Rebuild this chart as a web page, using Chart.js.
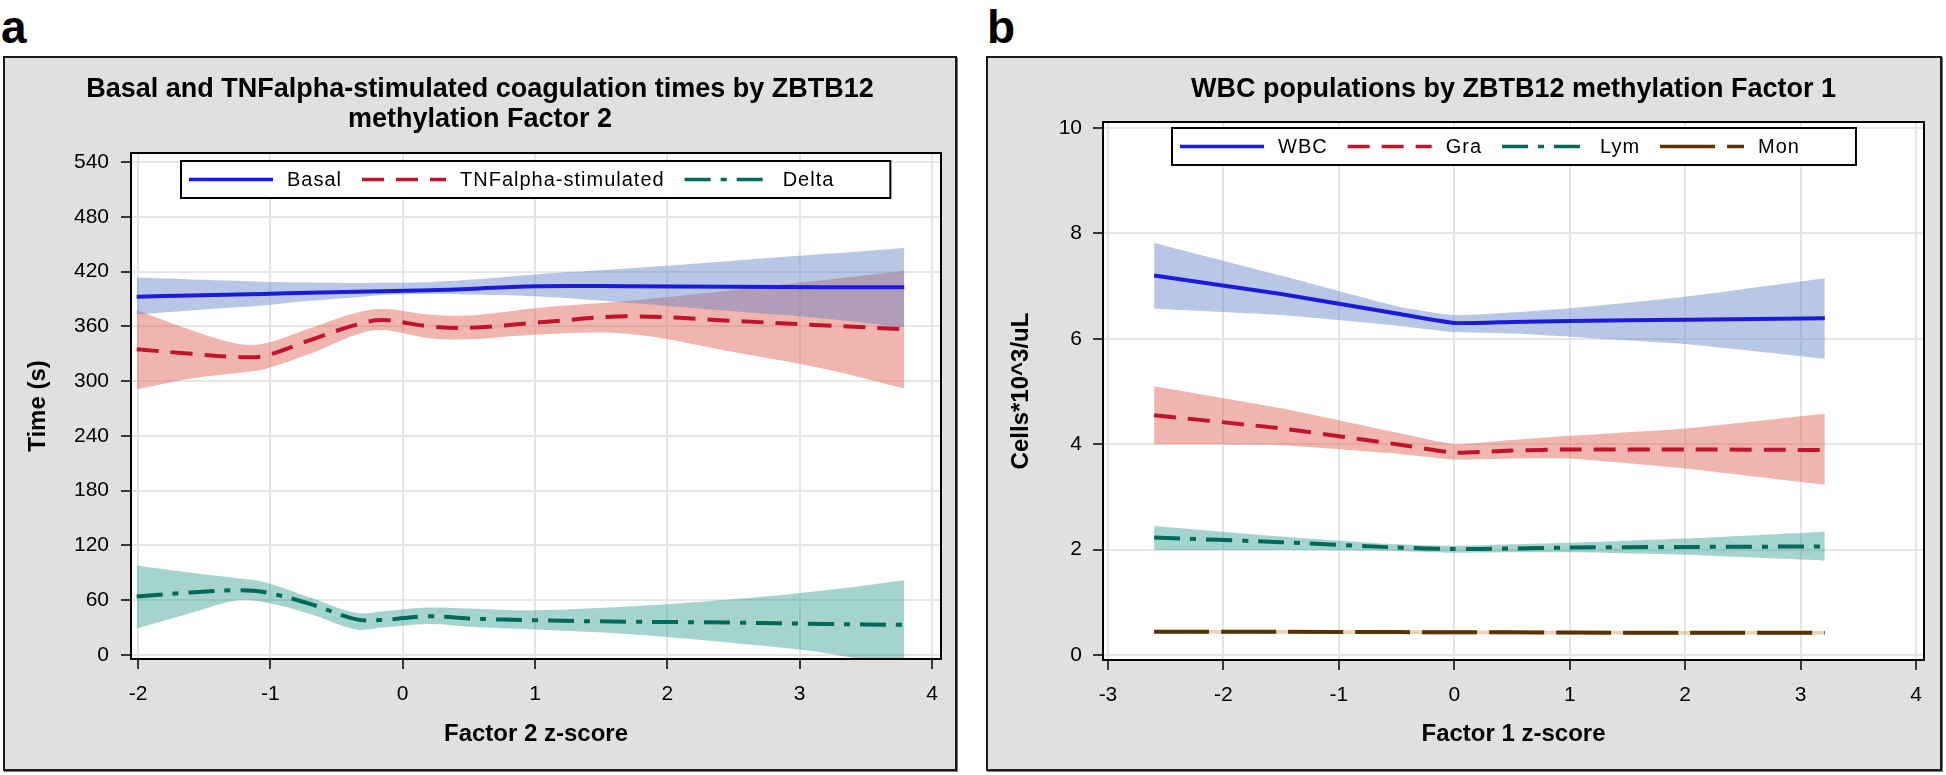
<!DOCTYPE html>
<html>
<head>
<meta charset="utf-8">
<script src="https://cdn.jsdelivr.net/npm/chart.js@4.4.1/dist/chart.umd.min.js"></script>
<style>
  body { margin: 0; width: 1946px; height: 775px; background: #fff; position: relative; overflow: hidden;
         font-family: "Liberation Sans", Arial, sans-serif; }
  .tag { position: absolute; top: 4px; font-size: 46px; font-weight: bold; line-height: 1; color: #000; }
  .panel { position: absolute; top: 56px; height: 715px; background: #e0e0e0; border: 2px solid #1a1a1a;
           box-sizing: border-box; box-shadow: 1px 1px 0 #777; }
  canvas { position: absolute; top: 56px; }
</style>
</head>
<body>
<div class="tag" style="left:1px">a</div>
<div class="tag" style="left:987px">b</div>
<div class="panel" style="left:3px; width:954px"></div>
<div class="panel" style="left:986px; width:956px"></div>
<canvas id="chartA" width="938" height="715" style="left:19px"></canvas>
<canvas id="chartB" width="956" height="715" style="left:986px"></canvas>
<script>
// ---- panel a: coagulation times by Factor 2 z-score ----
const zA       = [-2.01, -1.6, -1.25, -1.05, -0.7, -0.35, -0.15, 0.2, 0.5, 1.0, 1.7, 2.5, 3.2, 3.79];
const basal    = [392.5, 394, 395, 395.5, 397, 398, 398.5, 399.5, 401, 404, 404, 403.5, 403, 403];
const basalHi  = [413.5, 411.5, 410, 409, 408, 407.5, 407.8, 408.5, 411, 417, 423.5, 432, 439.5, 446];
const basalLo  = [373, 377.5, 381, 383, 388, 392, 394.5, 395.5, 395, 393, 386, 376.5, 368.5, 359];
const tnf      = [335, 330, 326.5, 327.5, 345, 362, 367, 360, 358.5, 364, 371, 366, 361, 357];
const tnfHi    = [378, 356, 341, 341, 358, 375, 379, 373, 372, 380, 388, 400, 411, 421];
const tnfLo    = [291, 303, 309, 313, 330, 351, 356, 347, 346, 351, 352, 332, 313, 292];
const delta    = [64, 68.5, 71, 69, 56, 39, 38.5, 42.5, 40, 38, 36.5, 35.5, 34, 33];
const deltaHi  = [98, 90, 84, 80, 63, 46, 48, 52, 51, 49, 53, 61, 71, 82];
const deltaLo  = [29, 46, 60, 58, 45, 28, 30, 34, 31, 28, 23, 13, 2, -15];
const yTicksA  = [0, 60, 120, 180, 240, 300, 360, 420, 480, 540];
const xTicksA  = [-2, -1, 0, 1, 2, 3, 4];

// ---- panel b: WBC populations by Factor 1 z-score ----
const zB    = [-2.6, -1.5, -0.5, 0, 0.5, 1, 2, 3.21];
const wbc   = [7.2, 6.85, 6.48, 6.3, 6.32, 6.34, 6.36, 6.39];
const wbcHi = [7.82, 7.2, 6.62, 6.45, 6.5, 6.58, 6.8, 7.15];
const wbcLo = [6.57, 6.45, 6.25, 6.13, 6.1, 6.04, 5.9, 5.62];
const gra   = [4.55, 4.3, 4.0, 3.84, 3.88, 3.9, 3.9, 3.89];
const graHi = [5.1, 4.68, 4.22, 4.0, 4.08, 4.16, 4.3, 4.58];
const graLo = [4.0, 3.98, 3.82, 3.71, 3.73, 3.73, 3.54, 3.23];
const lym   = [2.23, 2.14, 2.04, 2.01, 2.02, 2.04, 2.05, 2.06];
const lymHi = [2.45, 2.25, 2.1, 2.07, 2.1, 2.13, 2.21, 2.34];
const lymLo = [1.99, 1.99, 1.97, 1.94, 1.95, 1.95, 1.9, 1.79];
const mon   = [0.44, 0.44, 0.435, 0.43, 0.43, 0.425, 0.42, 0.42];
const monHi = [0.475, 0.475, 0.47, 0.465, 0.465, 0.46, 0.455, 0.455];
const monLo = [0.405, 0.405, 0.40, 0.395, 0.395, 0.39, 0.385, 0.385];
const yTicksB = [0, 2, 4, 6, 8, 10];
const xTicksB = [-3, -2, -1, 0, 1, 2, 3, 4];

const FONT = '"Liberation Sans", Arial, sans-serif';
Chart.defaults.font.family = FONT;
Chart.defaults.color = '#000';

const BLUE  = { color: '#1c1cd8', band: 'rgba(100,130,200,0.45)', dash: [] };
const RED   = { color: '#c0142c', band: 'rgba(220,90,75,0.45)', dash: [22, 12] };
const TEAL  = { color: '#00695a', band: 'rgba(40,150,135,0.42)', dash: [26, 10, 6, 10] };
const BROWN = { color: '#5a3200', band: 'rgba(200,150,80,0.4)', dash: [55, 12] };

const pts = (xs, ys) => xs.map((x, i) => ({ x: x, y: ys[i] }));

// lower bound, upper bound filled to it, then the fitted line on top
function series(label, xs, mid, lo, hi, st, tension) {
    return [
        { data: pts(xs, lo), borderWidth: 0, borderColor: 'rgba(0,0,0,0)', pointRadius: 0, fill: false, order: 2, tension: tension },
        { data: pts(xs, hi), borderWidth: 0, borderColor: 'rgba(0,0,0,0)', pointRadius: 0, fill: '-1',
          backgroundColor: st.band, order: 2, tension: tension },
        { label: label, data: pts(xs, mid), borderColor: st.color, borderWidth: 4, borderDash: st.dash,
          pointRadius: 0, fill: false, order: 1, tension: tension }
    ];
}

// white plot area, black frame and the boxed legend inside the frame
const framePlugin = {
    id: 'frame',
    beforeDraw(chart) {
        const a = chart.chartArea, ctx = chart.ctx;
        ctx.save();
        ctx.fillStyle = '#fff';
        ctx.fillRect(a.left, a.top, a.right - a.left, a.bottom - a.top);
        ctx.restore();
    },
    afterDatasetsDraw(chart, args, opts) {
        const a = chart.chartArea, ctx = chart.ctx;
        ctx.save();
        ctx.strokeStyle = '#000';
        ctx.lineWidth = 2;
        ctx.strokeRect(a.left, a.top, a.right - a.left, a.bottom - a.top);

        const items = chart.data.datasets.filter(d => d.label);
        ctx.font = '20px ' + FONT;
        ctx.letterSpacing = '1px';
        const sample = 84, gapT = 14, gapI = 20, padL = 8, padR = 56, h = 37;
        let w = padL + padR;
        items.forEach((d, i) => { w += sample + gapT + ctx.measureText(d.label).width + (i ? gapI : 0); });
        const x0 = Math.round((a.left + a.right) / 2 - w / 2), y0 = a.top + opts.top;
        ctx.fillStyle = '#fff';
        ctx.fillRect(x0, y0, w, h);
        ctx.strokeRect(x0, y0, w, h);
        const cy = y0 + h / 2;
        let x = x0 + padL;
        items.forEach(d => {
            ctx.beginPath();
            ctx.setLineDash(d.borderDash);
            ctx.strokeStyle = d.borderColor;
            ctx.lineWidth = 3.5;
            ctx.moveTo(x, cy);
            ctx.lineTo(x + sample, cy);
            ctx.stroke();
            ctx.setLineDash([]);
            x += sample + gapT;
            ctx.fillStyle = '#000';
            ctx.textAlign = 'left';
            ctx.textBaseline = 'middle';
            ctx.fillText(d.label, x, cy + 1);
            x += ctx.measureText(d.label).width + gapI;
        });
        ctx.restore();
    }
};

function axes(o) {
    const grid = { color: '#e6e6e6', lineWidth: 2, tickColor: '#000', tickLength: 10, tickWidth: 1.5 };
    return {
        x: {
            type: 'linear', min: o.xmin, max: o.xmax,
            grid: grid, border: { display: false },
            afterBuildTicks: s => { s.ticks = o.xticks.map(v => ({ value: v })); },
            afterFit: s => { s.height = o.xh; },
            ticks: { autoSkip: false, maxRotation: 0, padding: 13, font: { size: 21 }, callback: v => String(v) },
            title: { display: true, text: o.xtitle, font: { size: 24, weight: 'bold' }, padding: { top: 0, bottom: 22 } }
        },
        y: {
            type: 'linear', min: o.ymin, max: o.ymax,
            grid: grid, border: { display: false },
            afterBuildTicks: s => { s.ticks = o.yticks.map(v => ({ value: v })); },
            afterFit: s => { s.width = o.yw; },
            ticks: { padding: o.ypad, font: { size: 21 }, callback: v => String(v) },
            title: { display: true, text: o.ytitle, font: { size: 24, weight: 'bold' }, padding: { top: o.ytpad, bottom: 0 } }
        }
    };
}

new Chart(document.getElementById('chartA'), {
    type: 'line',
    data: {
        datasets: [].concat(
            series('Basal', zA, basal, basalLo, basalHi, BLUE, 0.35),
            series('TNFalpha-stimulated', zA, tnf, tnfLo, tnfHi, RED, 0.35),
            series('Delta', zA, delta, deltaLo, deltaHi, TEAL, 0.35)
        )
    },
    options: {
        responsive: false, animation: false,
        layout: { padding: { left: 0, right: 16, top: 0, bottom: 0 } },
        scales: axes({ xmin: -2.053, xmax: 4.068, ymin: -4.4, ymax: 550, xticks: xTicksA, yticks: yTicksA,
                       xh: 112, yw: 112, ypad: 12, ytpad: 5, xtitle: 'Factor 2 z-score', ytitle: 'Time (s)' }),
        plugins: {
            legend: { display: false }, tooltip: { enabled: false },
            title: { display: true, fullSize: true,
                     text: ['Basal and TNFalpha-stimulated coagulation times by ZBTB12', 'methylation Factor 2'],
                     font: { size: 27, weight: 'bold', lineHeight: 30 / 27 }, padding: { top: 19, bottom: 18 } },
            frame: { top: 8 }
        }
    },
    plugins: [framePlugin]
});

new Chart(document.getElementById('chartB'), {
    type: 'line',
    data: {
        datasets: [].concat(
            series('WBC', zB, wbc, wbcLo, wbcHi, BLUE, 0.15),
            series('Gra', zB, gra, graLo, graHi, RED, 0.15),
            series('Lym', zB, lym, lymLo, lymHi, TEAL, 0.15),
            series('Mon', zB, mon, monLo, monHi, BROWN, 0.15)
        )
    },
    options: {
        responsive: false, animation: false,
        layout: { padding: { left: 0, right: 18, top: 0, bottom: 0 } },
        scales: axes({ xmin: -3.043, xmax: 4.069, ymin: -0.095, ymax: 10.114, xticks: xTicksB, yticks: yTicksB,
                       xh: 111, yw: 117, ypad: 11, ytpad: 21, xtitle: 'Factor 1 z-score', ytitle: 'Cells*10^3/uL' }),
        plugins: {
            legend: { display: false }, tooltip: { enabled: false },
            title: { display: true, fullSize: false,
                     text: 'WBC populations by ZBTB12 methylation Factor 1',
                     font: { size: 27, weight: 'bold', lineHeight: 30 / 27 }, padding: { top: 19, bottom: 17 } },
            frame: { top: 6 }
        }
    },
    plugins: [framePlugin]
});
</script>
</body>
</html>
